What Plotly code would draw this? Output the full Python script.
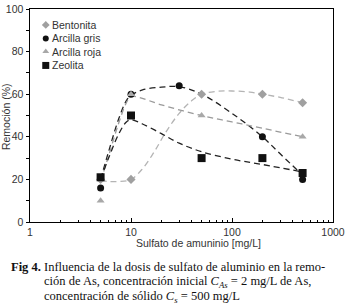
import plotly.graph_objects as go

# measured points
x_bent = [5, 10, 50, 200, 500]
y_bent = [20, 20, 60, 60, 56]
x_gris = [5, 10, 30, 200, 500]
y_gris = [16, 60, 64, 40, 20]
x_roja = [5, 10, 50, 500]
y_roja = [10, 60, 50, 40]
x_zeo = [5, 10, 50, 200, 500]
y_zeo = [21, 50, 30, 30, 23]

# fitted (dashed) curves
cx_bent = [5, 6, 7.5, 10, 13, 17, 22, 30, 40, 50, 70, 100, 150, 200, 300, 500]
cy_bent = [19.5, 19, 19, 20, 25, 33, 42, 51, 57, 60, 61.3, 61.5, 61, 60, 58.5, 56]
cx_gris = [5, 6, 7.5, 9, 10, 13, 20, 30, 50, 100, 200, 300, 500]
cy_gris = [20, 33, 48, 57, 59.5, 62, 63.3, 63.5, 60, 51, 40, 32, 22]
cx_roja = [5, 6, 7.5, 9, 10, 12, 20, 50, 100, 200, 500]
cy_roja = [19, 31, 46, 56, 59, 58.5, 55, 50, 47, 44, 40]
cx_zeo = [5, 6, 7.5, 9, 10, 13, 20, 30, 50, 100, 200, 500]
cy_zeo = [20, 30, 41, 47, 48, 46, 41.5, 37, 33, 29.5, 27, 23.5]

names = ["Bentonita", "Arcilla gris", "Arcilla roja", "Zeolita"]
y_ticks = [0, 20, 40, 60, 80, 100]
x_ticks = [1, 10, 100, 1000]

fig = go.Figure()

curves = [
    (cx_bent, cy_bent, "#b4b4b4"),
    (cx_gris, cy_gris, "#222222"),
    (cx_roja, cy_roja, "#9a9a9a"),
    (cx_zeo, cy_zeo, "#222222"),
]
for cx, cy, col in curves:
    fig.add_trace(go.Scatter(x=cx, y=cy, mode="lines", showlegend=False,
                             line=dict(color=col, width=1.3, dash="6px,4px", shape="spline", smoothing=1.0),
                             hoverinfo="skip"))

styles = [
    ("diamond", "#a0a0a0", 7),
    ("circle", "#111111", 7),
    ("triangle-up", "#a8a8a8", 7),
    ("square", "#111111", 8),
]
data_pts = [(x_bent, y_bent), (x_gris, y_gris), (x_roja, y_roja), (x_zeo, y_zeo)]
for (px, py), (sym, col, sz), nm in zip(data_pts, styles, names):
    fig.add_trace(go.Scatter(x=px, y=py, mode="markers", name=nm, showlegend=False,
                             marker=dict(symbol=sym, color=col, size=sz, line=dict(width=0))))

# manual legend (compact, like the reference) on an overlay axis in plot-fraction units
leg_x = 0.052
leg_y = [0.925, 0.862, 0.80, 0.735]
for (sym, col, sz), nm, ly in zip(styles, names, leg_y):
    fig.add_trace(go.Scatter(x=[leg_x], y=[ly], xaxis="x2", yaxis="y2", mode="markers",
                             showlegend=False, hoverinfo="skip",
                             marker=dict(symbol=sym, color=col, size=sz - 1 if sym != "square" else 7,
                                         line=dict(width=0))))
    fig.add_annotation(xref="paper", yref="paper", x=leg_x + 0.014, y=ly, xanchor="left", yanchor="middle",
                       text=nm, showarrow=False,
                       font=dict(family="Liberation Sans, Arial, sans-serif", size=10.5, color="#333333"))

axis_font = dict(family="Liberation Sans, Arial, sans-serif", size=10.5, color="#333333")

fig.update_layout(
    width=351, height=306,
    margin=dict(l=30, r=18, t=9, b=84),
    paper_bgcolor="white", plot_bgcolor="white",
    font=axis_font,
    showlegend=False,
    xaxis=dict(type="log", range=[0, 3], tickvals=x_ticks, ticktext=[str(v) for v in x_ticks],
               showgrid=False, zeroline=False, showline=True, linecolor="black", linewidth=1, mirror=True,
               ticks="inside", ticklen=4, tickcolor="black",
               minor=dict(ticks="inside", ticklen=2.5, tickcolor="black", dtick="D1"),
               tickfont=axis_font, automargin=False),
    yaxis=dict(range=[0, 100], tickvals=y_ticks, showgrid=False, zeroline=False,
               showline=True, linecolor="black", linewidth=1, mirror=True,
               ticks="outside", ticklen=3.5, tickcolor="black",
               minor=dict(ticks="outside", ticklen=3.5, tickcolor="black", dtick=10),
               tickfont=axis_font, automargin=False),
    xaxis2=dict(overlaying="x", range=[0, 1], visible=False, fixedrange=True),
    yaxis2=dict(overlaying="y", range=[0, 1], visible=False, fixedrange=True),
)

# axis titles
fig.add_annotation(xref="paper", yref="paper", x=0.555, y=-0.1, xanchor="center", yanchor="middle",
                   text="Sulfato de amuninio [mg/L]", showarrow=False, font=axis_font)
fig.add_annotation(xref="paper", yref="paper", x=-0.079, y=0.493, xanchor="center", yanchor="middle",
                   text="Remoción (%)", textangle=-90, showarrow=False, font=axis_font)

cap_font = dict(family="Liberation Serif, Times New Roman, serif", size=12.5, color="#111111")
fig.add_annotation(xref="paper", yref="paper", x=-0.069, y=-0.211, xanchor="left", yanchor="middle",
                   text="<b>Fig 4.</b>", showarrow=False, font=cap_font)
lines = [
    "Influencia de la dosis de sulfato de aluminio en la remo-",
    "ción de As, concentración inicial <i>C</i><sub><i>As</i></sub> = 2 mg/L de As,",
    "concentración de sólido <i>C</i><sub><i>s</i></sub> = 500 mg/L",
]
for i, t in enumerate(lines):
    fig.add_annotation(xref="paper", yref="paper", x=0.0396, y=-0.211 - i * 0.0705,
                       xanchor="left", yanchor="middle", text=t, showarrow=False, font=cap_font)

fig.write_html("out.html", config={"displayModeBar": False},
               post_script="document.body.style.margin='0';document.body.style.padding='0';"
                           "document.documentElement.style.overflow='hidden';")
